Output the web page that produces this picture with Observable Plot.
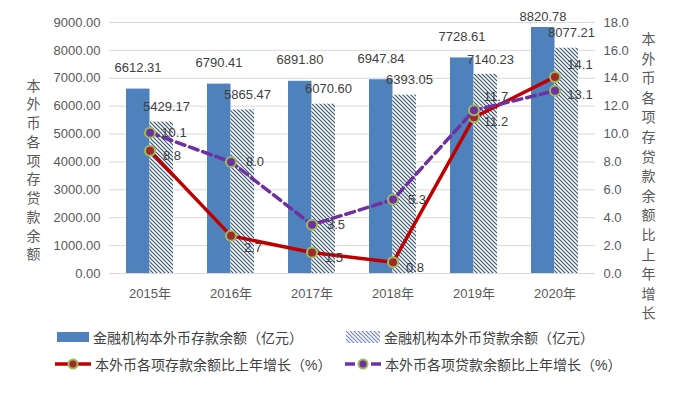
<!DOCTYPE html>
<html>
<head>
<meta charset="utf-8">
<script src="https://cdn.jsdelivr.net/npm/d3@7"></script>
<script src="https://cdn.jsdelivr.net/npm/@observablehq/plot@0.6"></script>
<style>
  body { margin: 0; background: #fff; font-family: "Liberation Sans", "Noto Sans CJK SC", sans-serif; }
  #wrap { width: 682px; }
  #legend { position: relative; width: 682px; height: 69px; font-size: 14px; color: #404040; }
  .item { position: absolute; display: flex; align-items: center; height: 18px; white-space: nowrap; }
  .item svg { display: block; margin-right: 4px; }
</style>
</head>
<body>
<div id="wrap"></div>
<script>
const years = ["2015年", "2016年", "2017年", "2018年", "2019年", "2020年"];
const deposits = [6612.31, 6790.41, 6891.80, 6947.84, 7728.61, 8820.78];
const loans = [5429.17, 5865.47, 6070.60, 6393.05, 7140.23, 8077.21];
const depositGrowth = [8.8, 2.7, 1.5, 0.8, 11.2, 14.1];
const loanGrowth = [10.1, 8.0, 3.5, 5.3, 11.7, 13.1];
const leftTicks = [0, 1000, 2000, 3000, 4000, 5000, 6000, 7000, 8000, 9000];
const rightTicks = [0, 2, 4, 6, 8, 10, 12, 14, 16, 18];
const leftTitle = "本外币各项存贷款余额";
const rightTitle = "本外币各项存贷款余额比上年增长";
const legendLabels = [
  "金融机构本外币存款余额（亿元）",
  "金融机构本外币贷款余额（亿元）",
  "本外币各项存款余额比上年增长（%）",
  "本外币各项贷款余额比上年增长（%）"
];

const k = leftTicks[leftTicks.length - 1] / rightTicks[rightTicks.length - 1];
const rows = years.map((y, i) => ({year: y, deposit: deposits[i], loan: loans[i], dg: depositGrowth[i], lg: loanGrowth[i]}));
const lastYear = years[years.length - 1];
const gridColor = "#d9d9d9";
const tickColor = "#595959";
const labelColor = "#404040";
const blue = "#4f81bd";
const red = "#c00000";
const purple = "#7030a0";
const ring = "#9bbb59";
const hatchMarker = "#fefefe";

const vert = s => s.split("").join("\n");

const plot = Plot.plot({
  width: 682,
  height: 325,
  marginTop: 22,
  marginBottom: 52,
  marginLeft: 109,
  marginRight: 87,
  style: {fontFamily: "Liberation Sans, Noto Sans CJK SC, sans-serif", fontSize: "13px", background: "#fff"},
  x: {domain: years, padding: 0},
  y: {domain: [0, 9000]},
  marks: [
    Plot.ruleY(leftTicks, {stroke: gridColor, strokeWidth: 1}),
    Plot.barY(rows, {x: "year", y: "deposit", fill: blue, insetLeft: 17, insetRight: 40.5}),
    Plot.barY(rows, {x: "year", y: "loan", fill: hatchMarker, insetLeft: 40.5, insetRight: 17}),
    Plot.line(rows, {x: "year", y: d => d.dg * k, stroke: red, strokeWidth: 3.5}),
    Plot.dot(rows, {x: "year", y: d => d.dg * k, r: 5, fill: "#a1282b", stroke: ring, strokeWidth: 2}),
    Plot.line(rows, {x: "year", y: d => d.lg * k, stroke: purple, strokeWidth: 3.5, strokeDasharray: "9,5"}),
    Plot.dot(rows, {x: "year", y: d => d.lg * k, r: 5, fill: purple, stroke: ring, strokeWidth: 2}),
    // bar value labels
    Plot.text(rows.filter(d => d.year !== lastYear), {x: "year", y: "deposit", text: d => d.deposit.toFixed(2), dx: -12, dy: -21, fill: labelColor, fontSize: 13}),
    Plot.text(rows.filter(d => d.year === lastYear), {x: "year", y: "deposit", text: d => d.deposit.toFixed(2), dx: -12, dy: -11, fill: labelColor, fontSize: 13}),
    Plot.text(rows, {x: "year", y: "loan", text: d => d.loan.toFixed(2), dx: 16.5, dy: -15, fill: labelColor, fontSize: 13}),
    // growth labels
    Plot.text(rows.filter(d => d.year !== lastYear && d.year !== "2016年"), {x: "year", y: d => d.dg * k, text: d => d.dg.toFixed(1), dx: 22, dy: 5, fill: labelColor, fontSize: 13}),
    Plot.text(rows.filter(d => d.year === "2016年"), {x: "year", y: d => d.dg * k, text: d => d.dg.toFixed(1), dx: 22, dy: 12, fill: labelColor, fontSize: 13}),
    Plot.text(rows.filter(d => d.year === lastYear), {x: "year", y: d => d.dg * k, text: d => d.dg.toFixed(1), dx: 25, dy: -12, fill: labelColor, fontSize: 13}),
    Plot.text(rows.filter(d => d.year !== "2019年" && d.year !== lastYear), {x: "year", y: d => d.lg * k, text: d => d.lg.toFixed(1), dx: 24, dy: 0, fill: labelColor, fontSize: 13}),
    Plot.text(rows.filter(d => d.year === "2019年"), {x: "year", y: d => d.lg * k, text: d => d.lg.toFixed(1), dx: 22, dy: -14, fill: labelColor, fontSize: 13}),
    Plot.text(rows.filter(d => d.year === lastYear), {x: "year", y: d => d.lg * k, text: d => d.lg.toFixed(1), dx: 25, dy: 4, fill: labelColor, fontSize: 13}),
    // axes
    Plot.axisY({ticks: leftTicks, tickFormat: d => d.toFixed(2), tickSize: 0, tickPadding: 9, label: null, fill: tickColor, fontSize: 13}),
    Plot.axisY({anchor: "right", ticks: rightTicks.map(v => v * k), tickFormat: d => (d / k).toFixed(1), tickSize: 0, tickPadding: 8, label: null, fill: tickColor, fontSize: 13}),
    Plot.axisX({tickSize: 0, tickPadding: 15, label: null, fill: tickColor, fontSize: 13}),
    // axis titles (vertical)
    Plot.text([leftTitle], {frameAnchor: "left", text: d => vert(d), dx: -76, dy: 21, textAnchor: "middle", lineHeight: 1.34, fontSize: 14, fill: tickColor}),
    Plot.text([rightTitle], {frameAnchor: "right", text: d => vert(d), dx: 53, dy: 27, textAnchor: "middle", lineHeight: 1.4, fontSize: 14, fill: tickColor})
  ]
});

// diagonal hatch pattern for the loan bars
const NS = "http://www.w3.org/2000/svg";
const defs = document.createElementNS(NS, "defs");
const pat = document.createElementNS(NS, "pattern");
pat.setAttribute("id", "hatch");
pat.setAttribute("patternUnits", "userSpaceOnUse");
pat.setAttribute("width", "4");
pat.setAttribute("height", "4");
const bg = document.createElementNS(NS, "rect");
bg.setAttribute("width", "4"); bg.setAttribute("height", "4"); bg.setAttribute("fill", "#ffffff");
const stripe = document.createElementNS(NS, "path");
stripe.setAttribute("d", "M-1,3 l2,2 M0,0 l4,4 M3,-1 l2,2");
stripe.setAttribute("stroke", "#34557f");
stripe.setAttribute("stroke-width", "1.2");
pat.appendChild(bg); pat.appendChild(stripe); defs.appendChild(pat);
plot.insertBefore(defs, plot.firstChild);
plot.querySelectorAll("[fill]").forEach(el => {
  if ((el.getAttribute("fill") || "").toLowerCase() === hatchMarker) el.setAttribute("fill", "url(#hatch)");
});

document.getElementById("wrap").appendChild(plot);

// legend
const legend = document.createElement("div");
legend.id = "legend";
const swatches = [
  `<svg width="32" height="12"><rect x="0" y="1" width="32" height="10" fill="${blue}"/></svg>`,
  `<svg width="34" height="12"><defs><pattern id="hatchL" patternUnits="userSpaceOnUse" width="4" height="4"><path d="M-1,3 l2,2 M0,0 l4,4 M3,-1 l2,2" stroke="#6f7fbf" stroke-width="1.1"/></pattern></defs><rect x="0" y="0" width="34" height="12" fill="url(#hatchL)"/></svg>`,
  `<svg width="36" height="12"><line x1="0" y1="6" x2="36" y2="6" stroke="${red}" stroke-width="3.5"/><circle cx="18" cy="6" r="4.5" fill="#a1282b" stroke="${ring}" stroke-width="2"/></svg>`,
  `<svg width="36" height="12"><line x1="0" y1="6" x2="10" y2="6" stroke="${purple}" stroke-width="3.5"/><line x1="26" y1="6" x2="36" y2="6" stroke="${purple}" stroke-width="3.5"/><circle cx="18" cy="6" r="4.5" fill="${purple}" stroke="${ring}" stroke-width="2"/></svg>`
];
const pos = [[57, 3], [346, 3], [55, 30], [345, 30]];
legendLabels.forEach((lab, i) => {
  const it = document.createElement("div");
  it.className = "item";
  it.style.left = pos[i][0] + "px";
  it.style.top = pos[i][1] + "px";
  it.innerHTML = swatches[i] + "<span>" + lab + "</span>";
  legend.appendChild(it);
});
document.getElementById("wrap").appendChild(legend);
</script>
</body>
</html>
